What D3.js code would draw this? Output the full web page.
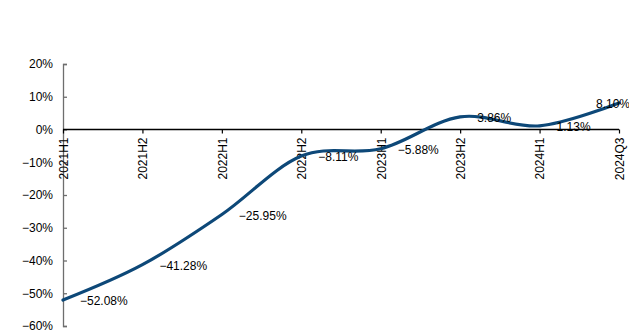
<!DOCTYPE html>
<html>
<head>
<meta charset="utf-8">
<script src="https://cdn.jsdelivr.net/npm/d3@7/dist/d3.min.js"></script>
<style>
html,body{margin:0;padding:0;background:#fff;}
svg{display:block;font-family:"Liberation Sans",Arial,sans-serif;}
</style>
</head>
<body>
<svg id="chart" width="629" height="333"></svg>
<script>
const categories = ["2021H1","2021H2","2022H1","2022H2","2023H1","2023H2","2024H1","2024Q3"];
const values = [-52.08,-41.28,-25.95,-8.11,-5.88,3.86,1.13,8.10];
const yTicks = [20,10,0,-10,-20,-30,-40,-50,-60];

const svg = d3.select("#chart");
const x = d3.scalePoint().domain(categories).range([63,619]);
const y = d3.scaleLinear().domain([-60,20]).range([326,64]);
const fmtTick = v => (v<0 ? "\u2212"+Math.abs(v) : v) + "%";
const fmtLbl = v => (v<0 ? "\u2212"+Math.abs(v).toFixed(2) : v.toFixed(2)) + "%";

// Y axis
const yAxis = svg.append("g").attr("transform","translate(63,0)")
  .call(d3.axisLeft(y).tickValues(yTicks).tickSize(-4).tickPadding(10).tickFormat(fmtTick));
yAxis.select(".domain").attr("stroke","#6e6e6e").attr("stroke-width",1.3);
yAxis.selectAll(".tick line").attr("stroke","#6e6e6e").attr("stroke-width",1.3);
yAxis.selectAll(".tick text").attr("font-size",12).attr("fill","#000")
  .attr("font-family","'Liberation Sans',Arial,sans-serif");

// X axis at 0
const xAxis = svg.append("g").attr("transform",`translate(0,${y(0)})`)
  .call(d3.axisBottom(x).tickSize(4).tickSizeOuter(0));
xAxis.select(".domain").attr("stroke","#000").attr("stroke-width",1.3)
  .attr("d",`M63,0H619`);
xAxis.selectAll(".tick line").attr("stroke","#000").attr("stroke-width",1.2);
xAxis.selectAll(".tick text")
  .attr("font-size",12).attr("fill","#000")
  .attr("font-family","'Liberation Sans',Arial,sans-serif")
  .attr("text-anchor","end")
  .attr("transform","rotate(-90)")
  .attr("x",-8).attr("y",0).attr("dy","0.36em");

// Line
const line = d3.line()
  .x((d,i)=>x(categories[i]))
  .y(d=>y(d))
  .curve(d3.curveCardinal.tension(0));
svg.append("path").datum(values)
  .attr("d",line)
  .attr("fill","none")
  .attr("stroke","#0d4878")
  .attr("stroke-width",3.2)
  .attr("stroke-linecap","round");

// Data labels
const last = values.length-1;
svg.append("g").selectAll("text").data(values).join("text")
  .attr("x",(d,i)=> i===last ? x(categories[i])+11 : x(categories[i])+17)
  .attr("y",d=>y(d)+1)
  .attr("dy","0.35em")
  .attr("text-anchor",(d,i)=> i===last ? "end" : "start")
  .attr("font-size",12)
  .attr("fill","#000")
  .text(d=>fmtLbl(d));
</script>
</body>
</html>
